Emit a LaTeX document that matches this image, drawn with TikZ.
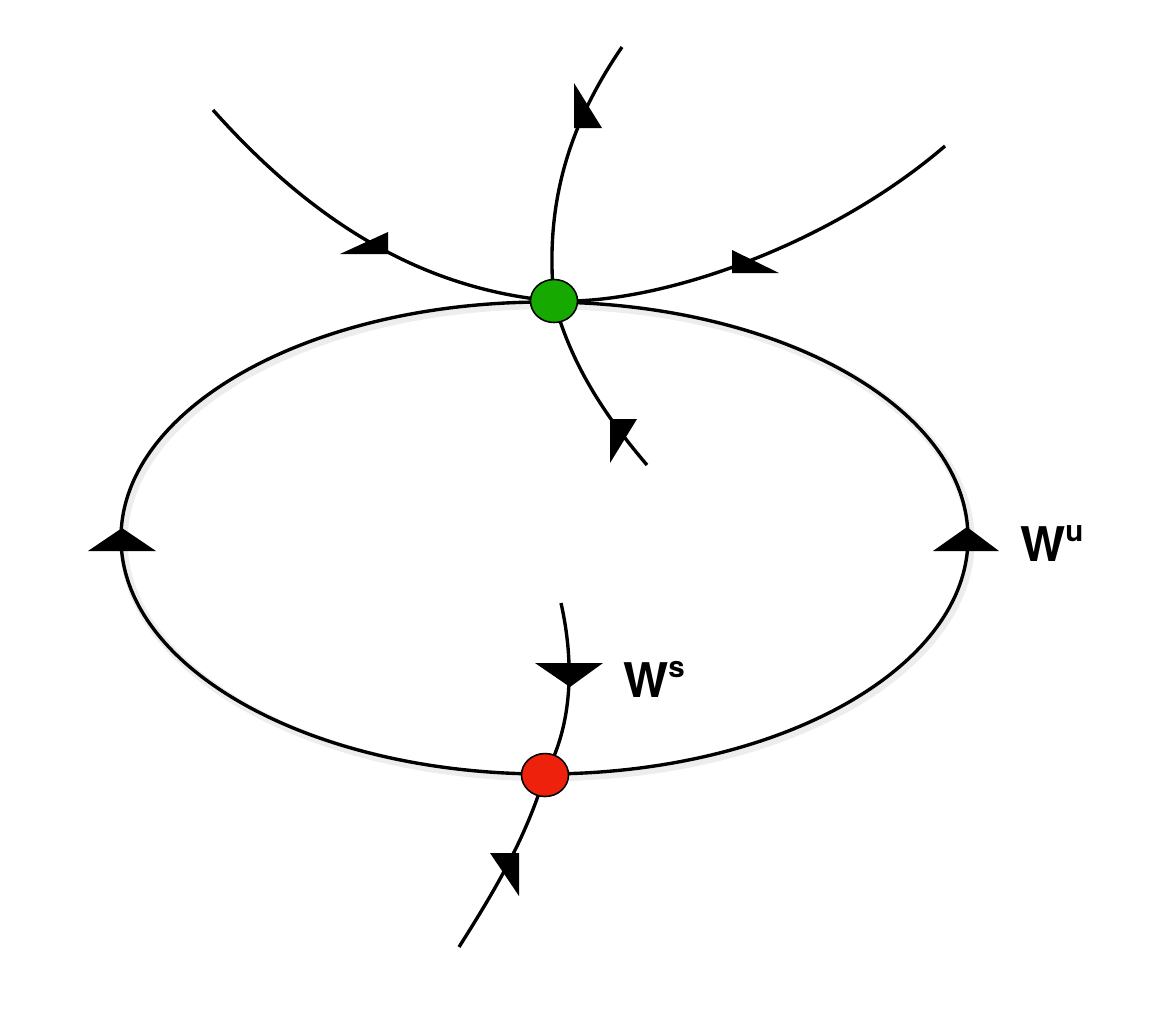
\documentclass[tikz,border=0pt]{standalone}
\usepackage{fontspec}
\setmainfont{TeX Gyre Heros}
\usetikzlibrary{shapes.geometric}

\definecolor{fixgreen}{RGB}{22,170,0}
\definecolor{fixred}{RGB}{238,34,12}

\tikzset{
  orbit/.style={line width=2.4pt},
  fixpt/.style={ellipse, draw=black, line width=1.1pt, inner sep=0pt,
    minimum width=1.175cm, minimum height=1.075cm},
  manlabel/.style={anchor=base west, inner sep=0pt,
    font=\fontsize{34}{40}\selectfont\bfseries}
}

\begin{document}
\begin{tikzpicture}[x=0.025cm,y=-0.025cm]
\useasboundingbox (0,0) rectangle (1150,1008);

\begin{scope}
        \coordinate (G) at (554,301);
        \coordinate (R) at (545,775);
        \coordinate (tl) at (213,110);
        \coordinate (tp) at (622,47);
        \coordinate (rt) at (945,146);
        \coordinate (lo) at (647,465);
        \coordinate (ws) at (561,603);
        \coordinate (bt) at (459,947);

        % Cykl graniczny
        \draw[black!7, line width=6pt] (547,541) ellipse [x radius=423.5, y radius=236];
        \draw[orbit] (544.5,538) ellipse [x radius=423.5, y radius=236];

        % Rozmaitosci
        \draw[orbit] (tl) .. controls (320,230) and (430,290) .. (G);
        \draw[orbit] (tp) .. controls (565,130) and (545,210) .. (G);
        \draw[orbit] (G) .. controls (660,305) and (830,245) .. (rt);
        \draw[orbit] (G) .. controls (570,360) and (600,410) .. (lo);
        \draw[orbit] (ws) .. controls (576,670) and (570,730) .. (R);
        \draw[orbit] (R) .. controls (525,840) and (495,890) .. (bt);

        % Groty
        \fill (340,254) -- (388,254) -- (388,232) -- cycle;
        \fill (574,83) -- (574,128) -- (602,128) -- cycle;
        \fill (732,250) -- (732,273) -- (779,273) -- cycle;
        \fill (610,419) -- (637,419) -- (610,463) -- cycle;
        \fill (88,551) -- (156,551) -- (122,528) -- cycle;
        \fill (933,551) -- (999,551) -- (967,527) -- cycle;
        \fill (535,663) -- (603,663) -- (570,687) -- cycle;
        \fill (490,853) -- (519,853) -- (519,896) -- cycle;

        % Punkty stale
        \node[fixpt, fill=fixgreen] (green) at (G) {};
        \node[fixpt, fill=fixred] (red) at (R) {};

        \node[manlabel] (wu) at (1020,561) {W\raisebox{14pt}{\fontsize{21}{24}\selectfont u}};
        \node[manlabel] (wst) at (623,697) {W\raisebox{14pt}{\fontsize{21}{24}\selectfont s}};
\end{scope}

\end{tikzpicture}
\end{document}
